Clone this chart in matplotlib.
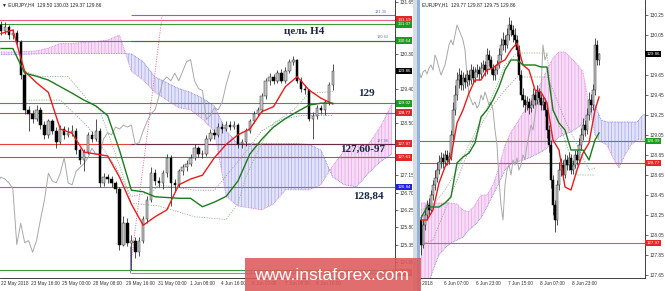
import numpy as np
import matplotlib
matplotlib.use("Agg")
import matplotlib.pyplot as plt
from matplotlib.patches import Rectangle
from matplotlib.transforms import Bbox, TransformedBbox, blended_transform_factory

plt.rcParams['hatch.linewidth'] = 0.45

# ================= DATA =================
# ---- Left panel: EURJPY H4 ----
h4_first_open = 131.05
h4_close = [130.90,131.00,130.80,130.85,130.60,129.75,128.85,128.75,128.60,128.85,
            128.45,128.20,128.55,128.30,128.00,128.35,128.20,128.25,128.30,127.80,
            127.55,127.75,128.20,128.10,128.30,126.95,127.10,127.05,126.95,126.80,
            125.35,125.90,125.40,125.45,125.15,125.45,126.00,126.50,127.20,127.00,
            126.95,127.20,127.60,126.95,126.90,127.25,127.35,127.45,127.60,127.85,
            127.70,127.70,128.10,128.25,128.20,128.40,128.35,128.45,128.40,128.45,
            127.95,128.00,128.30,128.55,128.75,128.85,129.20,129.60,129.70,129.60,
            129.80,129.60,129.85,130.10,130.15,129.60,129.40,129.35,128.60,128.70,
            128.90,128.85,129.05,129.50,129.86]
h4_high = [131.15,131.14,131.05,130.95,130.92,130.65,129.85,128.95,128.85,128.98,
           128.92,128.55,128.62,128.62,128.40,128.45,128.42,128.40,128.45,128.38,
           127.85,127.82,128.28,128.30,128.60,128.38,127.20,127.18,127.12,127.00,
           126.85,126.10,126.05,125.60,125.55,125.55,126.10,126.60,127.35,127.30,
           127.10,127.28,127.70,127.68,127.05,127.32,127.45,127.55,127.70,127.95,
           127.92,127.80,128.20,128.35,128.35,128.50,128.50,128.55,128.55,128.55,
           128.50,128.10,128.38,128.62,128.82,128.92,129.28,129.68,129.80,129.78,
           129.88,129.92,129.95,130.18,130.25,130.18,129.70,129.48,129.40,128.78,
           128.98,128.98,129.10,129.58,130.03]
h4_low = [130.80,130.82,130.70,130.70,130.52,129.65,128.75,128.30,128.50,128.55,
          128.35,128.10,128.12,128.22,127.85,127.95,128.10,128.15,128.18,127.70,
          127.45,127.25,127.70,128.00,128.05,126.85,126.88,126.95,126.85,126.70,
          125.20,125.30,125.30,124.70,125.00,125.05,125.40,125.90,126.45,126.90,
          126.85,126.80,127.10,126.35,126.75,126.85,127.15,127.25,127.38,127.55,
          127.62,127.60,127.65,128.05,128.10,128.15,128.25,128.30,128.32,128.35,
          127.85,127.85,127.92,128.25,128.50,128.68,128.80,129.12,129.50,129.52,
          129.55,129.55,129.55,129.80,130.00,129.55,129.32,129.25,128.55,128.10,
          128.62,128.75,128.72,128.98,129.37]
h4_line_idx = list(range(0, 85, 3))
h4_tenkan = [130.83,130.92,129.85,129.55,129.30,128.35,128.24,127.75,127.70,127.65,
             127.10,126.40,125.85,126.07,126.25,126.90,127.05,127.15,127.60,127.95,
             128.20,128.35,128.80,128.93,129.45,129.71,129.36,129.15,129.00]
h4_kijun = [130.44,130.44,129.80,129.72,129.62,129.45,129.28,129.10,128.95,128.70,
            127.80,126.76,126.72,126.59,126.57,126.55,126.55,126.33,126.45,126.60,
            127.00,127.70,128.08,128.40,128.62,128.80,128.97,129.02,129.02]
h4_cloud_idx = list(range(0, 100, 3))
h4_span_a = [130.35,130.35,130.36,130.38,130.45,130.57,130.57,130.60,130.62,130.66,
             130.79,129.85,129.62,129.30,129.10,128.90,128.85,128.60,128.30,126.60,
             126.35,126.30,126.25,126.40,126.77,126.77,126.77,126.90,127.40,127.80,
             127.90,127.95,128.40,129.00]
h4_span_b = [130.28,130.28,130.29,130.30,130.31,130.31,130.31,130.31,130.31,130.31,
             130.31,130.30,130.10,129.70,129.55,129.40,129.30,129.15,128.95,128.30,
             127.97,127.97,127.97,127.97,127.97,127.97,127.95,127.80,127.10,126.90,
             126.85,127.20,127.50,127.70]
h4_dot1_idx = [5,10,17,22,25,28,31,33,40,49,57,60,62,66,69,74,78,84]
h4_dot1 = [129.88,129.71,129.71,129.10,128.84,127.98,127.11,126.42,126.35,126.07,
           126.00,126.42,127.11,127.98,128.50,128.84,129.28,129.32]
h4_dot2_idx = [7,15,22,29,33,38,40,49,54,61,66,71,76,84]
h4_dot2 = [129.10,129.10,128.41,127.37,126.60,126.70,126.90,126.76,126.76,127.63,
           128.30,128.60,128.70,128.70]
h4_time_pos = [-0.1, 7.5, 15.4, 23.3, 31.6, 39.7, 47.8, 55.7, 63.5, 71.8, 79.8]
h4_time_labels = ["22 May 2018", "23 May 16:00", "25 May 00:00", "28 May 08:00",
                  "29 May 16:00", "31 May 00:00", "1 Jun 08:00", "4 Jun 16:00",
                  "6 Jun 00:00", "7 Jun 08:00", "8 Jun 16:00"]
h4_yticks = [131.65,131.20,130.75,130.30,129.85,129.40,128.95,128.50,128.05,
             127.60,127.15,126.70,126.25,125.80,125.35,124.90]
# level lines: price, colour, start bar
h4_levels = [(131.30,'#7474b8',33),(131.19,'#e8607c',-1),(131.07,'#3c9c3c',-1),
             (130.64,'#3c9c3c',-1),(130.63,'#585878',33),(129.02,'#3c9c3c',-1),
             (128.77,'#e84040',-1),(127.97,'#e84040',-1),(127.96,'#6a2a4a',33),
             (127.61,'#e84040',-1),(126.84,'#7070e0',-1),(124.70,'#3c9c3c',-1),
             (124.60,'#9090b8',33)]
h4_boxes = [(131.19,'#e02828','white'),(131.07,'#1e9a1e','white'),
            (130.64,'#1e9a1e','white'),(129.86,'#000000','white'),
            (129.02,'#1e9a1e','white'),(128.77,'#e02828','white'),
            (127.97,'#e02828','white'),(127.61,'#e02828','white'),
            (126.84,'#2020e0','white'),(124.62,'#d87a30','white')]
h4_trend_x = [32.7, 40.8]
h4_trend_y = [124.70, 131.30]
h4_notes = [("цель H4", 76.7, 130.87), ("129", 92.4, 129.26),
            ("127,60-97", 91.6, 127.81), ("128,84", 93.0, 126.61)]
h4_line_tags = [("131.30", 96.2, 131.38), ("130.63", 96.6, 130.73), ("127.96", 96.6, 128.05)]

# ---- Right panel: EURJPY H1 ----
h1_first_open = 128.20
h1_close = [127.95,128.15,128.25,128.35,128.30,128.45,128.55,128.62,128.70,128.78,
            128.82,128.78,128.85,128.80,128.83,129.05,129.30,129.45,129.60,129.65,
            129.55,129.62,129.58,129.65,129.60,129.70,129.62,129.68,129.70,129.66,
            129.72,129.75,129.70,129.85,129.80,129.72,129.65,129.70,129.75,129.85,
            129.95,130.00,129.95,130.05,130.15,130.10,130.05,130.00,129.90,129.65,
            129.45,129.40,129.35,129.38,129.32,129.35,129.45,129.40,129.48,129.42,
            129.35,129.38,129.30,129.10,128.95,128.60,128.35,128.20,128.55,128.70,
            128.75,128.65,128.80,128.75,128.82,128.70,128.75,128.85,128.80,128.95,
            129.05,129.15,129.10,129.25,129.40,129.35,129.50,129.95,129.80,129.86]
h1_high = [128.25,128.20,128.32,128.40,128.42,128.50,128.60,128.70,128.78,128.85,
           128.88,128.87,128.90,128.90,128.88,129.10,129.38,129.55,129.68,129.72,
           129.70,129.68,129.66,129.70,129.70,129.76,129.74,129.73,129.76,129.74,
           129.78,129.80,129.79,129.92,129.90,129.84,129.76,129.75,129.80,129.92,
           130.02,130.08,130.05,130.12,130.23,130.20,130.15,130.12,130.05,129.95,
           129.70,129.52,129.45,129.44,129.42,129.40,129.52,129.50,129.55,129.52,
           129.46,129.44,129.42,129.35,129.15,129.00,128.65,128.40,128.60,128.78,
           128.82,128.80,128.86,128.85,128.88,128.86,128.80,128.90,128.90,129.02,
           129.12,129.22,129.20,129.32,129.48,129.46,129.56,130.02,130.00,129.87]
h1_low = [127.85,127.92,128.10,128.20,128.25,128.28,128.40,128.50,128.58,128.66,
          128.72,128.72,128.74,128.75,128.76,128.80,129.00,129.25,129.40,129.52,
          129.50,129.50,129.52,129.54,129.55,129.56,129.58,129.58,129.63,129.60,
          129.62,129.68,129.64,129.66,129.74,129.66,129.60,129.60,129.66,129.72,
          129.80,129.90,129.88,129.92,130.00,130.04,129.98,129.94,129.84,129.60,
          129.40,129.33,129.28,129.30,129.26,129.28,129.32,129.35,129.36,129.38,
          129.30,129.30,129.24,129.02,128.88,128.52,128.25,128.08,128.15,128.50,
          128.64,128.60,128.62,128.70,128.70,128.66,128.66,128.72,128.75,128.78,
          128.90,129.00,129.04,129.06,129.20,129.28,129.30,129.45,129.75,129.75]
h1_line_idx = list(range(0, 88, 3)) + [89]
h1_tenkan = [128.20,128.20,128.30,128.57,128.73,128.83,129.17,129.30,129.47,129.60,
             129.60,129.70,129.72,129.77,129.80,129.90,129.97,129.75,129.70,129.50,
             129.48,129.37,129.00,128.90,128.53,128.50,128.70,128.87,128.97,129.30,
             129.43]
h1_kijun = [128.22,128.33,128.33,128.33,128.37,128.43,128.77,128.83,128.87,128.97,
            129.23,129.30,129.40,129.53,129.70,129.80,129.80,129.75,129.75,129.75,
            129.73,129.73,129.30,129.17,129.10,128.90,128.90,128.90,128.80,129.00,
            129.07]
h1_cloud_idx = list(range(0, 115, 3))
h1_span_a = [128.37,128.37,128.37,128.37,128.37,128.37,128.36,128.30,128.28,128.35,
             128.45,128.45,128.55,128.73,128.95,129.08,129.17,129.27,129.37,129.47,
             129.57,129.70,129.82,129.88,129.88,129.82,129.76,129.68,129.35,129.05,
             128.98,128.95,128.82,128.72,128.85,128.95,129.00,129.00,129.00]
h1_span_b = [127.30,127.50,127.70,127.85,127.92,127.97,128.00,128.03,128.10,128.15,
             128.22,128.33,128.45,128.57,128.70,128.76,128.78,128.80,128.82,128.85,
             128.88,128.92,128.97,129.03,129.06,129.08,129.12,129.17,129.30,129.35,
             129.20,129.18,129.18,129.18,129.18,129.18,129.18,129.25,129.28]
h1_dot1_idx = [0,6,12,18,24,30,36,42,48,63,66,72,78,87]
h1_dot1 = [128.30,128.35,128.50,128.70,128.95,129.20,129.45,129.75,129.87,129.87,
           129.30,129.00,128.65,128.65]
h1_dot2_idx = [0,6,12,18,24,30,36,42,48,63,66,72,78,84,87]
h1_dot2 = [127.95,128.00,128.30,128.60,128.90,129.15,129.35,129.50,129.63,129.63,
           129.50,129.20,128.95,128.70,128.72]
h1_time_pos = [-6.0, 11.5, 27.5, 43.5, 59.5, 75.5]
h1_time_labels = ["5 Jun 2018", "6 Jun 07:00", "6 Jun 23:00", "7 Jun 15:00",
                  "8 Jun 07:00", "8 Jun 23:00"]
h1_yticks = [130.25,130.05,129.85,129.65,129.45,129.25,129.05,128.85,128.65,
             128.45,128.25,128.05,127.85,127.65]
h1_levels = [(128.99,'#3c9c3c'),(128.77,'#e84040'),(127.97,'#e85070')]
h1_boxes = [(129.86,'#000000','white'),(128.99,'#1e9a1e','white'),
            (128.77,'#e02828','white'),(127.97,'#e02828','white')]

CHIKOU_SHIFT = 26

# ================= DRAWING =================
W, H = 665, 291
fig = plt.figure(figsize=(W/100, H/100), dpi=100)
fig.patch.set_facecolor('white')
FONT = ['Liberation Sans', 'DejaVu Sans']


def add_ax(x0, y0, x1, y1):
    return fig.add_axes([x0/W, 1 - y1/H, (x1 - x0)/W, (y1 - y0)/H])


def candles(ax, first_open, close, high, low, width):
    c = np.array(close)
    o = np.concatenate([[first_open], c[:-1]])
    x = np.arange(len(c))
    up = c >= o
    ax.vlines(x, low, high, color='#202020', lw=0.55, zorder=5)
    bottom = np.minimum(o, c)
    height = np.maximum(np.abs(c - o), 0.008)
    ax.bar(x[up], height[up], width, bottom[up], color='#c4c4c4',
           edgecolor='#303030', lw=0.35, zorder=6)
    ax.bar(x[~up], height[~up], width, bottom[~up], color='#000000',
           edgecolor='#000000', lw=0.35, zorder=6)


def cloud(ax, idx, a, b):
    idx = np.array(idx, float); a = np.array(a); b = np.array(b)
    ax.fill_between(idx, a, b, where=a >= b, interpolate=True, facecolor='#f7dcf7',
                    lw=0, zorder=1)
    ax.fill_between(idx, a, b, where=a >= b, interpolate=True, facecolor='none',
                    edgecolor='#e6a0e8', hatch='|||||', lw=0, zorder=1)
    ax.fill_between(idx, a, b, where=a < b, interpolate=True, facecolor='#e2e2f8',
                    lw=0, zorder=1)
    ax.fill_between(idx, a, b, where=a < b, interpolate=True, facecolor='none',
                    edgecolor='#a4a2ee', hatch='|||||', lw=0, zorder=1)
    ax.plot(idx, a, color='#d880dc', lw=0.6, ls=(0, (1, 1)), zorder=2)
    ax.plot(idx, b, color='#8080dc', lw=0.6, ls=(0, (1, 1)), zorder=2)


def price_box(ax, price, fc, tc):
    tr = blended_transform_factory(ax.transAxes, ax.transData)
    ax.text(1.006, price, f"{price:.2f}", transform=tr, fontsize=3.2, color=tc,
            family=FONT, va='center', ha='left', clip_on=False, zorder=20,
            bbox=dict(boxstyle='square,pad=0.3', fc=fc, ec='none'))


def style_axes(ax, yticks, boxes, gap):
    for s in ('left', 'top'):
        ax.spines[s].set_visible(False)
    for s in ('right', 'bottom'):
        ax.spines[s].set_color('#202020')
        ax.spines[s].set_linewidth(0.6)
    ax.yaxis.tick_right()
    ax.set_yticks(yticks)
    # labels hidden where a price box covers them
    labels = []
    for v in yticks:
        covered = any(abs(v - bp) < gap for bp, _, _ in boxes)
        labels.append("" if covered else f"{v:.2f}")
    ax.set_yticklabels(labels)
    ax.tick_params(axis='y', direction='out', length=2, width=0.5, pad=1.5,
                   labelsize=3.4, colors='#333333')
    for lab in ax.get_yticklabels():
        lab.set_family(FONT)
    ax.set_xticks([])


# ---------- left panel ----------
axL = add_ax(0, 0, 395, 278)
axL.set_xlim(-0.25, 99.75)
axL.set_ylim(124.48, 131.70)
style_axes(axL, h4_yticks, h4_boxes, 0.12)

cloud(axL, h4_cloud_idx, h4_span_a, h4_span_b)
for price, col, start in h4_levels:
    axL.hlines(price, start, 99.75, color=col, lw=0.8, zorder=3)
axL.plot(h4_trend_x, h4_trend_y, color='#f0609a', lw=0.7, ls=(0, (1, 1.5)), zorder=3)
axL.vlines(h4_trend_x[0], 124.60, 125.30, color='#8080c0', lw=0.7, zorder=3)
axL.plot(h4_dot1_idx, h4_dot1, color='#8fb88f', lw=0.6, ls=(0, (1.5, 1.5)), zorder=3)
axL.plot(h4_dot2_idx, h4_dot2, color='#a0a0a0', lw=0.6, ls=(0, (1.5, 1.5)), zorder=3)
axL.plot(np.arange(len(h4_close)) - CHIKOU_SHIFT, h4_close, color='#a8a8a8', lw=0.7, zorder=3)
candles(axL, h4_first_open, h4_close, h4_high, h4_low, 0.62)
axL.plot(h4_line_idx, h4_tenkan, color='#e81c1c', lw=1.0, zorder=7)
axL.plot(h4_line_idx, h4_kijun, color='#1c7c1c', lw=1.0, zorder=7)

for txt, xi, yp in h4_notes:
    axL.text(xi, yp, txt, fontsize=8, fontweight='bold', color='#1c2848',
             family=['Liberation Serif', 'DejaVu Serif'], ha='center', va='center', zorder=15)
for txt, xi, yp in h4_line_tags:
    axL.text(xi, yp, txt, fontsize=2.8, color='#6a74a8', family=FONT,
             ha='center', va='center', zorder=15)
for price, fc, tc in h4_boxes:
    price_box(axL, price, fc, tc)
trL = axL.get_xaxis_transform()
for p, lab in zip(h4_time_pos, h4_time_labels):
    axL.text(p, -0.012, lab, transform=trL, fontsize=3.4, color='#333333',
             family=FONT, ha='left', va='top', clip_on=False)
axL.text(0.004, 0.993, "\u25bc EURJPY,H4  129.50 130.03 129.37 129.86", transform=axL.transAxes,
         fontsize=3.5, color='#222222', family=FONT, ha='left', va='top', zorder=15)

# ---------- right panel ----------
axR = add_ax(420, 0, 645, 278)
axR.set_xlim(-0.5, 112.0)
axR.set_ylim(127.62, 130.40)
style_axes(axR, h1_yticks, h1_boxes, 0.05)

cloud(axR, h1_cloud_idx, h1_span_a, h1_span_b)
for price, col in h1_levels:
    axR.axhline(price, color=col, lw=0.8, zorder=3)
axR.plot(h1_dot1_idx, h1_dot1, color='#8fb88f', lw=0.6, ls=(0, (1.5, 1.5)), zorder=3)
axR.plot(h1_dot2_idx, h1_dot2, color='#a0a0a0', lw=0.6, ls=(0, (1.5, 1.5)), zorder=3)
axR.plot(np.arange(len(h1_close)) - CHIKOU_SHIFT, h1_close, color='#a8a8a8', lw=0.7, zorder=3)
candles(axR, h1_first_open, h1_close, h1_high, h1_low, 0.55)
axR.plot(h1_line_idx, h1_tenkan, color='#e81c1c', lw=1.0, zorder=7)
axR.plot(h1_line_idx, h1_kijun, color='#1c7c1c', lw=1.0, zorder=7)
for price, fc, tc in h1_boxes:
    price_box(axR, price, fc, tc)
trR = axR.get_xaxis_transform()
clip = TransformedBbox(Bbox.from_extents(419/W, 0, 1, 1), fig.transFigure)
for p, lab in zip(h1_time_pos, h1_time_labels):
    t = axR.text(p, -0.012, lab, transform=trR, fontsize=3.4, color='#333333',
                 family=FONT, ha='left', va='top')
    t.set_clip_box(clip)
    t.set_clip_on(True)
axR.text(0.01, 0.993, "EURJPY,H1  129.77 129.87 129.75 129.86", transform=axR.transAxes,
         fontsize=3.5, color='#222222', family=FONT, ha='left', va='top', zorder=15)

# panel separator / border
fig.patches.append(Rectangle((413/W, 0), 4/W, 1, transform=fig.transFigure,
                             facecolor='#d8dde4', edgecolor='none', zorder=0))
fig.patches.append(Rectangle((417/W, 0), 2.5/W, 1, transform=fig.transFigure,
                             facecolor='#8fb4d8', edgecolor='none', zorder=0))

# watermark
fig.patches.append(Rectangle((245/W, 0), 176/W, 33/H, transform=fig.transFigure,
                             facecolor='#dc5a5a', alpha=0.88, edgecolor='none', zorder=30))
fig.text(331/W, 1 - 276/H, "www.instaforex.com", fontsize=12.5, color='white',
         family=FONT, ha='center', va='center', zorder=31)

fig.savefig('out.png', dpi=100)
